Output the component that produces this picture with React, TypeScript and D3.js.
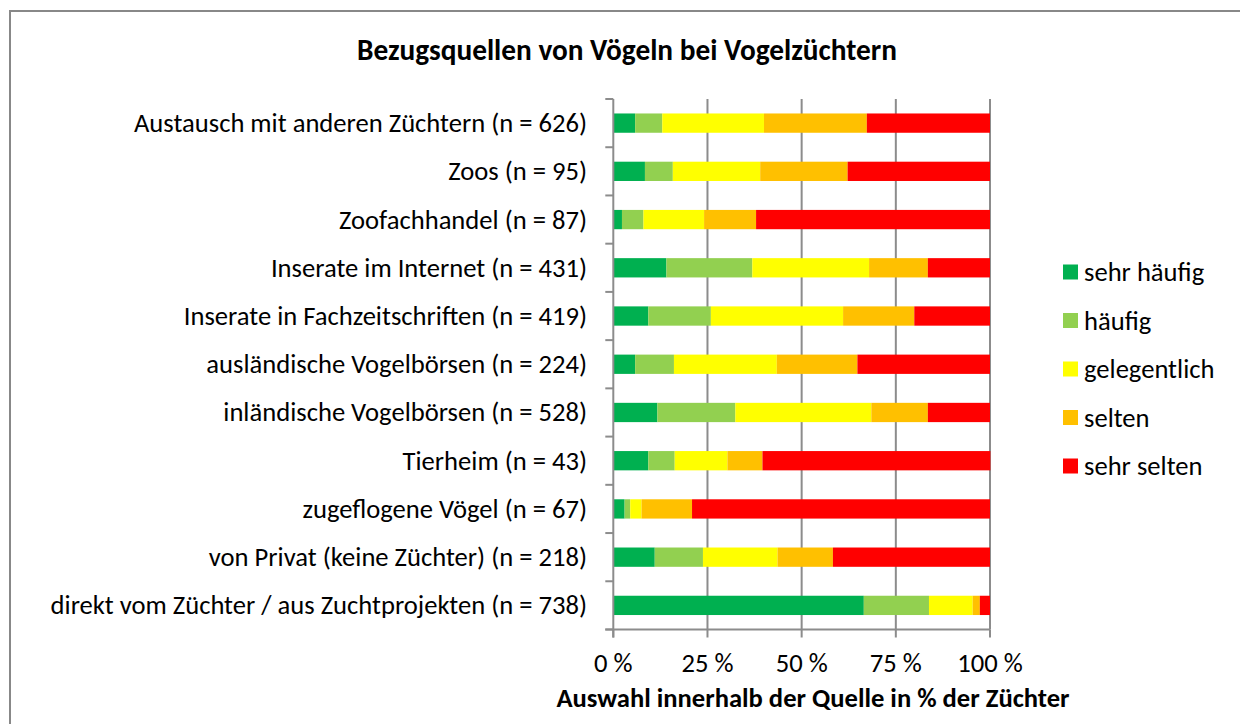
import React, { useEffect, useRef } from "react";
import * as d3 from "d3";

const categories = [
  "Austausch mit anderen Züchtern (n = 626)",
  "Zoos (n = 95)",
  "Zoofachhandel (n = 87)",
  "Inserate im Internet (n = 431)",
  "Inserate in Fachzeitschriften (n = 419)",
  "ausländische Vogelbörsen (n = 224)",
  "inländische Vogelbörsen (n = 528)",
  "Tierheim (n = 43)",
  "zugeflogene Vögel (n = 67)",
  "von Privat (keine Züchter) (n = 218)",
  "direkt vom Züchter / aus Zuchtprojekten (n = 738)",
];

const seriesNames = ["sehr häufig", "häufig", "gelegentlich", "selten", "sehr selten"];
const seriesColors = ["#00b050", "#92d050", "#ffff00", "#ffc000", "#ff0000"];

const sehrHaeufig = [5.8, 8.4, 2.3, 14.1, 9.3, 5.8, 11.7, 9.3, 3.0, 11.0, 66.5];
const haeufig = [7.2, 7.4, 5.7, 22.8, 16.6, 10.3, 20.7, 7.0, 1.5, 12.8, 17.3];
const gelegentlich = [27.0, 23.2, 16.1, 31.0, 35.1, 27.3, 36.1, 14.0, 3.0, 19.8, 11.6];
const selten = [27.3, 23.2, 13.8, 15.6, 18.9, 21.4, 15.0, 9.3, 13.4, 14.7, 1.9];
const sehrSelten = [32.7, 37.8, 62.1, 16.5, 20.1, 35.2, 16.5, 60.5, 79.1, 41.7, 2.7];

const xTicks = [0, 25, 50, 75, 100];
const xTickLabels = ["0 %", "25 %", "50 %", "75 %", "100 %"];

const title = "Bezugsquellen von Vögeln bei Vogelzüchtern";
const xTitle = "Auswahl innerhalb der Quelle in % der Züchter";

const FONT = "Carlito, Calibri, Lato, 'Open Sans', sans-serif";
const FS = 26.6;

export default function App() {
  const ref = useRef<SVGSVGElement>(null);

  useEffect(() => {
    const svg = d3.select(ref.current);
    svg.selectAll("*").remove();

    const W = 1240, H = 724;
    const left = 613.3, right = 990, top = 99, bottom = 629.5;

    svg.append("rect").attr("x", 10).attr("y", 11).attr("width", W + 20).attr("height", H + 20)
      .attr("fill", "#fff").attr("stroke", "#888").attr("stroke-width", 2);

    const x = d3.scaleLinear().domain([0, 100]).range([left, right]);
    const y = d3.scaleBand().domain(categories).range([top, bottom]).paddingInner(0.6).paddingOuter(0.3);
    const yFull = d3.scaleBand().domain(categories).range([top, bottom]);

    const grid = "#8c8c8c";
    svg.append("g").selectAll("line").data(xTicks.filter((d) => d > 0)).join("line")
      .attr("x1", (d) => x(d)).attr("x2", (d) => x(d)).attr("y1", top).attr("y2", bottom)
      .attr("stroke", grid).attr("stroke-width", 2);

    const rows = categories.map((c, i) => ({
      cat: c,
      v: [sehrHaeufig[i], haeufig[i], gelegentlich[i], selten[i], sehrSelten[i]],
    }));
    const stackData = rows.map((r) => {
      const o: any = { cat: r.cat };
      seriesNames.forEach((s, k) => (o[s] = r.v[k]));
      return o;
    });
    const stack = d3.stack<any>().keys(seriesNames)(stackData);
    const g = svg.append("g");
    stack.forEach((layer, k) => {
      g.append("g").selectAll("rect").data(layer).join("rect")
        .attr("x", (d) => x(d[0]))
        .attr("width", (d) => x(d[1]) - x(d[0]))
        .attr("y", (d: any) => y(d.data.cat)!)
        .attr("height", y.bandwidth())
        .attr("fill", seriesColors[k]);
    });

    svg.append("line").attr("x1", left).attr("x2", left).attr("y1", top).attr("y2", bottom + 8)
      .attr("stroke", grid).attr("stroke-width", 2);
    const bounds = categories.map((c) => yFull(c)!).concat([bottom]);
    svg.append("g").selectAll("line").data(bounds).join("line")
      .attr("x1", left - 8).attr("x2", left).attr("y1", (d) => d).attr("y2", (d) => d)
      .attr("stroke", grid).attr("stroke-width", 2);

    svg.append("line").attr("x1", left - 8).attr("x2", right).attr("y1", bottom).attr("y2", bottom)
      .attr("stroke", grid).attr("stroke-width", 2);
    svg.append("g").selectAll("line").data(xTicks).join("line")
      .attr("x1", (d) => x(d)).attr("x2", (d) => x(d)).attr("y1", bottom).attr("y2", bottom + 8)
      .attr("stroke", grid).attr("stroke-width", 2);

    svg.append("g").selectAll("text").data(categories).join("text")
      .attr("x", 587).attr("y", (d) => y(d)! + y.bandwidth() / 2)
      .attr("text-anchor", "end").attr("dominant-baseline", "central")
      .attr("font-family", FONT).attr("font-size", FS).attr("fill", "#000")
      .text((d) => d);

    svg.append("g").selectAll("text").data(xTicks).join("text")
      .attr("x", (d) => x(d)).attr("y", 663)
      .attr("text-anchor", "middle").attr("dominant-baseline", "central")
      .attr("font-family", FONT).attr("font-size", FS).attr("fill", "#000")
      .text((d, i) => xTickLabels[i]);

    svg.append("text").attr("x", 627).attr("y", 50).attr("text-anchor", "middle")
      .attr("dominant-baseline", "central").attr("font-family", FONT).attr("font-size", 29.3)
      .attr("font-weight", "bold").text(title);
    svg.append("text").attr("x", 813).attr("y", 698).attr("text-anchor", "middle")
      .attr("dominant-baseline", "central").attr("font-family", FONT).attr("font-size", FS)
      .attr("font-weight", "bold").text(xTitle);

    const lg = svg.append("g");
    const legendY = [272, 320.5, 369, 417.5, 466];
    seriesNames.forEach((s, k) => {
      lg.append("rect").attr("x", 1063).attr("y", legendY[k] - 7.5).attr("width", 15).attr("height", 15)
        .attr("fill", seriesColors[k]);
      lg.append("text").attr("x", 1084).attr("y", legendY[k]).attr("dominant-baseline", "central")
        .attr("font-family", FONT).attr("font-size", FS).text(s);
    });
  }, []);

  return (
    <svg ref={ref} width={1240} height={724}
      style={{ position: "absolute", left: 0, top: 0, display: "block", background: "#fff" }} />
  );
}
